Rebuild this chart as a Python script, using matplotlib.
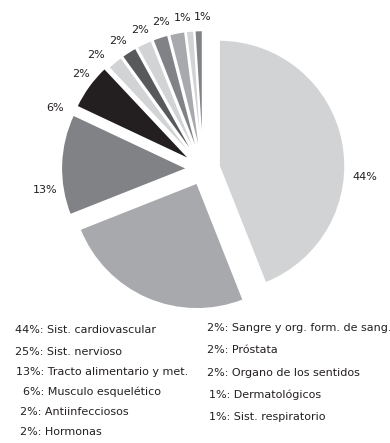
import numpy as np
import matplotlib
matplotlib.use("Agg")
import matplotlib.pyplot as plt

# ---- data ----
categories = ["Sist. cardiovascular", "Sist. nervioso", "Tracto alimentario y met.",
              "Musculo esquelético", "Antiinfecciosos", "Hormonas",
              "Sangre y org. form. de sang.", "Próstata", "Organo de los sentidos",
              "Dermatológicos", "Sist. respiratorio"]
values = [44, 25, 13, 6, 2, 2, 2, 2, 2, 1, 1]

# ---- style / layout ----
LIGHT, MID, MIDDARK, DARK, BLACK = "#d1d3d4", "#a7a9ac", "#808285", "#58595b", "#231f20"
colors = [LIGHT, MID, MIDDARK, BLACK, LIGHT, DARK, LIGHT, MIDDARK, MID, LIGHT, MIDDARK]
explode = [0.13, 0.12, 0.125, 0.12, 0.1, 0.1, 0.1, 0.1, 0.1, 0.1, 0.1]
label_nudge_deg = [-13.6, 0, 9.4, 13.7, 12.5, 10.6, 8.4, 6.4, 5.1, 2.1, -1.8]
label_dist = [1.29, 1.25, 1.26, 1.27, 1.23, 1.24, 1.22, 1.21, 1.21, 1.21, 1.21]
TEXT = "#231f20"

W, H = 390, 443
CX, CY, R = 203, 169, 126          # pie centre / radius in pixels (from top-left)

fig = plt.figure(figsize=(W / 100, H / 100), dpi=100)
ax = fig.add_axes([0, 0, 1, 1])

wedges, _ = ax.pie(values, colors=colors, startangle=90, counterclock=False,
                   explode=explode, radius=1.0, center=(0, 0),
                   wedgeprops=dict(edgecolor="white", linewidth=1.2))
ax.set_aspect("auto")
ax.set_xlim(-CX / R, (W - CX) / R)
ax.set_ylim(-(H - CY) / R, CY / R)
ax.axis("off")

# percentage labels around the pie (25% label is hidden in the reference)
total = float(sum(values))
cum = np.cumsum([0] + values)
for i, v in enumerate(values):
    if i == 1:
        continue
    mid = 90 - 360 * (cum[i] + cum[i + 1]) / 2 / total
    th = np.deg2rad(mid + label_nudge_deg[i])
    ax.text(label_dist[i] * np.cos(th), label_dist[i] * np.sin(th), f"{v}%",
            ha="center", va="center", fontsize=8, color=TEXT,
            family="DejaVu Sans")

# legend text (two columns)
left_x = [15, 15, 16, 23, 20, 20]
left_y = [329, 351, 371, 391, 411, 431]
right_x = [207, 207, 207, 209, 209]
right_y = [327, 349, 372, 394, 416]
xs = left_x + right_x
ys = left_y + right_y
for i, (v, name) in enumerate(zip(values, categories)):
    fig.text(xs[i] / W, 1 - (ys[i] + 4) / H, f"{v}%: {name}", ha="left",
             va="baseline", fontsize=8, color=TEXT, family="DejaVu Sans")

fig.savefig("out.png", dpi=100)
